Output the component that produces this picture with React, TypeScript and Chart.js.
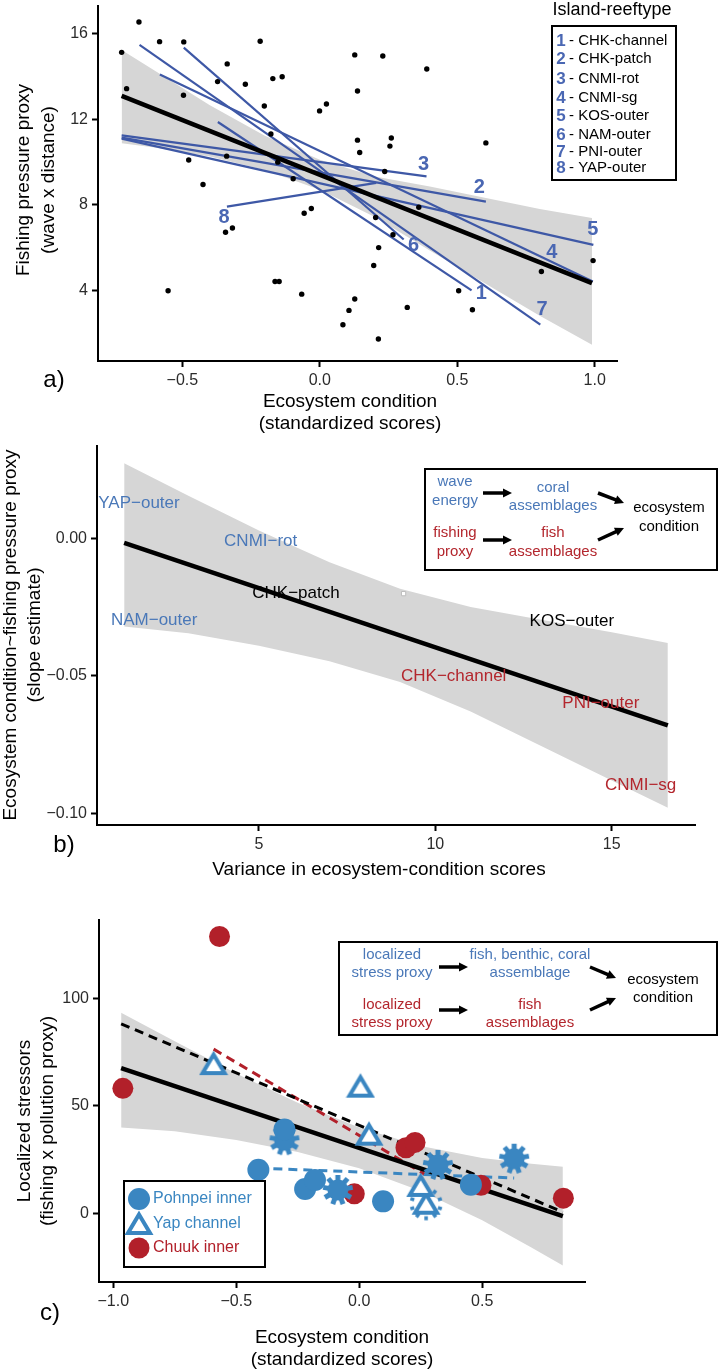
import React, { useEffect, useRef } from 'react';
import { Chart, registerables } from 'chart.js';

Chart.register(...registerables);

// ================= Panel a data =================
const aDotX = [-0.721, -0.658, -0.703, -0.583, -0.495, -0.496, -0.337, -0.372, -0.271, -0.217, -0.171, -0.137, -0.202, -0.178, -0.477, -0.339, -0.425, -0.097, -0.153, -0.001, 0.024, -0.057, -0.031, -0.343, -0.318, 0.127, 0.137, 0.137, 0.145, 0.229, 0.389, 0.26, 0.255, 0.604, 0.236, 0.36, 0.203, 0.266, 0.214, 0.196, -0.552, -0.163, -0.148, -0.066, 0.127, 0.106, 0.318, 0.505, 0.555, 0.213, 0.084, 0.806, 0.994];
const aDotY = [15.14, 16.56, 13.44, 15.64, 15.63, 13.13, 14.6, 13.77, 13.65, 15.66, 13.91, 14.0, 12.63, 11.32, 10.1, 10.28, 8.95, 9.22, 10.0, 12.4, 12.72, 7.61, 7.83, 6.72, 6.92, 15.02, 13.33, 11.03, 10.45, 14.97, 14.36, 11.13, 10.75, 10.9, 9.56, 7.89, 7.41, 6.6, 6.0, 5.16, 3.98, 4.41, 4.41, 3.82, 3.59, 3.06, 3.2, 3.98, 3.09, 1.72, 2.39, 4.88, 5.39];
const aFitX = [-0.721, 0.99];
const aFitY = [13.1, 4.34];
const aBandX = [-0.721, -0.6, -0.4, -0.2, 0.0, 0.2, 0.4, 0.6, 0.8, 0.99];
const aBandUpper = [15.25, 14.28, 12.66, 11.23, 10.11, 9.33, 8.86, 8.33, 7.81, 7.39];
const aBandLower = [10.89, 10.68, 10.26, 9.63, 8.71, 7.43, 5.86, 4.33, 2.81, 1.45];
const aGroupNames = ['CHK-channel', 'CHK-patch', 'CNMI-rot', 'CNMI-sg', 'KOS-outer', 'NAM-outer', 'PNI-outer', 'YAP-outer'];
const aGroupX0 = [-0.371, -0.721, -0.721, -0.582, -0.721, -0.495, -0.656, -0.338];
const aGroupY0 = [11.88, 11.15, 11.25, 14.1, 11.1, 15.36, 15.49, 7.92];
const aGroupX1 = [0.552, 0.604, 0.388, 0.993, 0.995, 0.305, 0.802, 0.205];
const aGroupY1 = [4.0, 8.15, 9.33, 4.41, 6.13, 6.38, 2.39, 9.03];
const aLabelX = [0.587, 0.58, 0.377, 0.844, 0.993, 0.341, 0.808, -0.348];
const aLabelY = [3.84, 8.8, 9.87, 5.75, 6.83, 6.08, 3.09, 7.39];
const aTicksX = [-0.5, 0, 0.5, 1.0];
const aTicksY = [4, 8, 12, 16];

// ================= Panel b data =================
const bFitX = [1.18, 16.59];
const bFitY = [-0.0015, -0.068];
const bBandX = [1.18, 3, 5, 7, 9, 11, 13, 15, 16.59];
const bBandUpper = [0.0275, 0.0157, 0.003, -0.0086, -0.0182, -0.0249, -0.0295, -0.0341, -0.038];
const bBandLower = [-0.032, -0.0344, -0.039, -0.0446, -0.0522, -0.0629, -0.0755, -0.0881, -0.098];
const bLabelText = ['YAP\u2212outer', 'CNMI\u2212rot', 'CHK\u2212patch', 'NAM\u2212outer', 'KOS\u2212outer', 'CHK\u2212channel', 'PNI\u2212outer', 'CNMI\u2212sg'];
const bLabelX = [1.6, 5.05, 6.05, 2.03, 13.87, 10.52, 14.69, 15.82];
const bLabelY = [0.0128, -0.001, -0.02, -0.0296, -0.03, -0.05, -0.06, -0.09];
const bLabelGroup = ['coral', 'coral', 'none', 'coral', 'none', 'fish', 'fish', 'fish'];
const bMarkX = [9.1];
const bMarkY = [-0.02];
const bTicksX = [5, 10, 15];
const bTicksY = [-0.1, -0.05, 0];

// ================= Panel c data =================
const cBandX = [-0.968, -0.75, -0.5, -0.25, 0, 0.25, 0.5, 0.7, 0.828];
const cBandUpper = [93.4, 80.2, 65.1, 51.5, 39.9, 31.3, 25.7, 23.0, 21.6];
const cBandLower = [39.9, 38.2, 34.1, 28.5, 20.9, 10.3, -3.3, -16.0, -24.4];
const cFitX = [-0.968, 0.828];
const cFitY = [67.6, -1.4];
const cAllDashX = [-0.968, 0.828];
const cAllDashY = [88.3, 0.5];
const cChuukDashX = [-0.592, 0.264];
const cChuukDashY = [76.5, 18.3];
const cPohnDashX = [-0.41, 0.63];
const cPohnDashY = [21, 16.4];
const cPohCircX = [-0.304, -0.41, -0.22, -0.18, 0.097, 0.454];
const cPohCircY = [39, 20.2, 11.3, 15.5, 5.5, 13.3];
const cPohCogX = [-0.304, -0.087, 0.32, 0.63];
const cPohCogY = [34, 10.8, 22.5, 25.4];
const cYapTriX = [-0.592, 0.005, 0.04, 0.25];
const cYapTriY = [69.5, 59, 36.6, 12.7];
const cYapCogX = [0.272];
const cYapCogY = [4.4];
const cChuukX = [-0.568, -0.961, -0.02, 0.19, 0.227, 0.495, 0.83];
const cChuukY = [129, 58.2, 9, 30.5, 33, 13, 7];
const cTicksX = [-1, -0.5, 0, 0.5];
const cTicksY = [0, 50, 100];

// ================= styling =================
const FONT = "'Liberation Sans', Arial, Helvetica, sans-serif";
const BAND = '#d6d6d6';
const LINE_A = '#3e58a6';
const LABEL_A = '#4a67b3';
const PT_BLUE = '#3a86c1';
const PT_RED = '#b2202a';
const TXT_BLUE = '#4a78b8';
const TXT_RED = '#b3262d';
const TICK_COL = '#2b2b2b';

const pts = (xs: number[], ys: number[]) => xs.map((x, i) => ({ x, y: ys[i] }));
const minus = (s: string) => s.replace('-', '\u2212');

function axis(min: number, max: number, ticks: number[], fmt: (v: number) => string, isX: boolean, size: number, fontSize = 16) {
  return {
    type: 'linear',
    min,
    max,
    afterBuildTicks: (s: any) => {
      s.ticks = ticks.map((v) => ({ value: v }));
    },
    afterFit: (s: any) => {
      if (isX) s.height = size;
      else s.width = size;
      s.paddingTop = 0;
      s.paddingBottom = 0;
      s.paddingLeft = 0;
      s.paddingRight = 0;
    },
    grid: { display: true, drawOnChartArea: false, drawTicks: true, tickLength: 6, tickWidth: 2, tickColor: '#000', color: '#000' },
    border: { display: true, color: '#000', width: 2 },
    ticks: {
      padding: 4,
      color: TICK_COL,
      autoSkip: false,
      maxRotation: 0,
      font: { family: FONT, size: fontSize },
      callback: (v: any) => fmt(Number(v)),
    },
  };
}

function txt(ctx: CanvasRenderingContext2D, s: string, x: number, y: number, size: number, color = '#000', o: any = {}) {
  ctx.save();
  ctx.font = `${o.weight || 'normal'} ${size}px ${o.family || FONT}`;
  ctx.fillStyle = color;
  ctx.textAlign = o.align || 'center';
  ctx.textBaseline = 'middle';
  ctx.translate(x, y);
  if (o.rot) ctx.rotate(o.rot);
  ctx.fillText(s, 0, 0);
  ctx.restore();
}

function arrow(ctx: CanvasRenderingContext2D, x1: number, y1: number, x2: number, y2: number) {
  const ang = Math.atan2(y2 - y1, x2 - x1);
  const head = 9;
  const hw = 4.5;
  const bx = x2 - head * Math.cos(ang);
  const by = y2 - head * Math.sin(ang);
  ctx.save();
  ctx.strokeStyle = '#000';
  ctx.fillStyle = '#000';
  ctx.lineWidth = 3.5;
  ctx.beginPath();
  ctx.moveTo(x1, y1);
  ctx.lineTo(bx + Math.cos(ang), by + Math.sin(ang));
  ctx.stroke();
  ctx.beginPath();
  ctx.moveTo(x2, y2);
  ctx.lineTo(bx + hw * Math.sin(ang), by - hw * Math.cos(ang));
  ctx.lineTo(bx - hw * Math.sin(ang), by + hw * Math.cos(ang));
  ctx.closePath();
  ctx.fill();
  ctx.restore();
}

function box(ctx: CanvasRenderingContext2D, x1: number, y1: number, x2: number, y2: number) {
  ctx.save();
  ctx.strokeStyle = '#000';
  ctx.lineWidth = 2;
  ctx.fillStyle = '#fff';
  ctx.fillRect(x1, y1, x2 - x1, y2 - y1);
  ctx.strokeRect(x1, y1, x2 - x1, y2 - y1);
  ctx.restore();
}

// ---------- marker images ----------
function mk(size: number, draw: (ctx: CanvasRenderingContext2D, c: number) => void) {
  const cv = document.createElement('canvas');
  cv.width = size;
  cv.height = size;
  const ctx = cv.getContext('2d') as CanvasRenderingContext2D;
  draw(ctx, size / 2);
  return cv;
}
function teeth(ctx: CanvasRenderingContext2D, c: number, n: number, r0: number, r1: number, w: number, color: string) {
  ctx.fillStyle = color;
  for (let k = 0; k < n; k++) {
    ctx.save();
    ctx.translate(c, c);
    ctx.rotate((k * 2 * Math.PI) / n - Math.PI / 2);
    ctx.fillRect(r0, -w / 2, r1 - r0, w);
    ctx.restore();
  }
}
function tri(ctx: CanvasRenderingContext2D, cx: number, cy: number) {
  ctx.beginPath();
  ctx.moveTo(cx, cy - 10.5);
  ctx.lineTo(cx + 11, cy + 8);
  ctx.lineTo(cx - 11, cy + 8);
  ctx.closePath();
  ctx.fillStyle = '#fff';
  ctx.fill();
  ctx.lineWidth = 4;
  ctx.lineJoin = 'miter';
  ctx.strokeStyle = PT_BLUE;
  ctx.stroke();
}
function makeMarkers() {
  const cog = mk(34, (ctx, c) => {
    teeth(ctx, c, 9, 8, 15, 5, PT_BLUE);
    ctx.beginPath();
    ctx.arc(c, c, 10.5, 0, Math.PI * 2);
    ctx.fillStyle = PT_BLUE;
    ctx.fill();
  });
  const triangle = mk(30, (ctx, c) => tri(ctx, c, c + 1));
  const triCog = mk(38, (ctx, c) => {
    teeth(ctx, c, 10, 12.5, 16.5, 3.5, PT_BLUE);
    tri(ctx, c, c + 1);
  });
  return { cog, triangle, triCog };
}

const baseOptions = (pad: any, scales: any) => ({
  responsive: false,
  maintainAspectRatio: false,
  animation: false,
  events: [],
  layout: { padding: pad },
  scales,
  plugins: { legend: { display: false }, tooltip: { enabled: false } },
});

const bandSets = (xs: number[], up: number[], lo: number[]) => [
  { data: pts(xs, up), fill: '+1', backgroundColor: BAND, borderColor: 'rgba(0,0,0,0)', borderWidth: 0, pointRadius: 0, order: 20 },
  { data: pts(xs, lo), fill: false, borderColor: 'rgba(0,0,0,0)', borderWidth: 0, pointRadius: 0, order: 19 },
];

// ================= Panel a =================
function buildA(canvas: HTMLCanvasElement) {
  const groupSets = aGroupNames.map((_, i) => ({
    data: [
      { x: aGroupX0[i], y: aGroupY0[i] },
      { x: aGroupX1[i], y: aGroupY1[i] },
    ],
    borderColor: LINE_A,
    borderWidth: 2.2,
    pointRadius: 0,
    fill: false,
    order: 10,
  }));
  const plugin = {
    id: 'panelA',
    afterDraw(chart: any) {
      const ctx = chart.ctx as CanvasRenderingContext2D;
      const xs = chart.scales.x;
      const ys = chart.scales.y;
      aLabelX.forEach((x, i) => {
        txt(ctx, String(i + 1), xs.getPixelForValue(x), ys.getPixelForValue(aLabelY[i]), 20, LABEL_A, { weight: 'bold' });
      });
      txt(ctx, 'Fishing pressure proxy', 24, 180, 19, '#000', { rot: -Math.PI / 2 });
      txt(ctx, '(wave x distance)', 49, 180, 19, '#000', { rot: -Math.PI / 2 });
      txt(ctx, 'Ecosystem condition', 350, 402, 19);
      txt(ctx, '(standardized scores)', 350, 424, 19);
      txt(ctx, 'a)', 54, 380, 24);
      txt(ctx, 'Island-reeftype', 612, 10, 18);
      box(ctx, 552, 26, 676, 180);
      const ly = [41, 59, 79, 98, 116, 135, 152, 168];
      aGroupNames.forEach((n, i) => {
        txt(ctx, String(i + 1), 561, ly[i], 17, LABEL_A, { weight: 'bold' });
        txt(ctx, '- ' + n, 569, ly[i], 15, '#000', { align: 'left' });
      });
    },
  };
  return new Chart(canvas, {
    type: 'line',
    data: {
      datasets: [
        ...bandSets(aBandX, aBandUpper, aBandLower),
        ...groupSets,
        { data: pts(aFitX, aFitY), borderColor: '#000', borderWidth: 4.5, pointRadius: 0, fill: false, order: 5 },
        { data: pts(aDotX, aDotY), showLine: false, pointRadius: 2.7, pointBackgroundColor: '#000', pointBorderWidth: 0, order: 1 },
      ],
    } as any,
    options: baseOptions(
      { top: 6, left: 38, right: 102, bottom: 49 },
      {
        x: axis(-0.807, 1.081, aTicksX, (v) => minus(v.toFixed(1)), true, 30),
        y: axis(0.69, 17.31, aTicksY, (v) => String(v), false, 60),
      }
    ) as any,
    plugins: [plugin],
  });
}

// ================= Panel b =================
function buildB(canvas: HTMLCanvasElement) {
  const off = 440;
  const colorFor = (g: string) => (g === 'coral' ? TXT_BLUE : g === 'fish' ? TXT_RED : '#000');
  const plugin = {
    id: 'panelB',
    afterDraw(chart: any) {
      const ctx = chart.ctx as CanvasRenderingContext2D;
      const xs = chart.scales.x;
      const ys = chart.scales.y;
      bLabelText.forEach((s, i) => {
        txt(ctx, s, xs.getPixelForValue(bLabelX[i]), ys.getPixelForValue(bLabelY[i]), 17, colorFor(bLabelGroup[i]));
      });
      txt(ctx, 'Ecosystem condition~fishing pressure proxy', 11, 635 - off, 19, '#000', { rot: -Math.PI / 2 });
      txt(ctx, '(slope estimate)', 35, 635 - off, 19, '#000', { rot: -Math.PI / 2 });
      txt(ctx, 'Variance in ecosystem-condition scores', 379, 870 - off, 19);
      txt(ctx, 'b)', 64, 845 - off, 24);
      box(ctx, 425, 469 - off, 717, 570 - off);
      txt(ctx, 'wave', 455, 482 - off, 15, TXT_BLUE);
      txt(ctx, 'energy', 455, 501 - off, 15, TXT_BLUE);
      txt(ctx, 'coral', 553, 488 - off, 15, TXT_BLUE);
      txt(ctx, 'assemblages', 553, 506 - off, 15, TXT_BLUE);
      txt(ctx, 'ecosystem', 669, 508 - off, 15);
      txt(ctx, 'condition', 669, 527 - off, 15);
      txt(ctx, 'fishing', 455, 533 - off, 15, TXT_RED);
      txt(ctx, 'proxy', 455, 552 - off, 15, TXT_RED);
      txt(ctx, 'fish', 553, 533 - off, 15, TXT_RED);
      txt(ctx, 'assemblages', 553, 552 - off, 15, TXT_RED);
      arrow(ctx, 483, 493 - off, 512, 493 - off);
      arrow(ctx, 483, 540 - off, 512, 540 - off);
      arrow(ctx, 598, 493 - off, 624, 503 - off);
      arrow(ctx, 598, 540 - off, 624, 528 - off);
    },
  };
  return new Chart(canvas, {
    type: 'line',
    data: {
      datasets: [
        ...bandSets(bBandX, bBandUpper, bBandLower),
        { data: pts(bFitX, bFitY), borderColor: '#000', borderWidth: 4.5, pointRadius: 0, fill: false, order: 5 },
        { data: pts(bMarkX, bMarkY), showLine: false, pointStyle: 'rect', pointRadius: 3, pointBackgroundColor: '#fff', pointBorderColor: '#bdbdbd', pointBorderWidth: 1, order: 1 },
      ],
    } as any,
    options: baseOptions(
      { top: 6, left: 37, right: 24, bottom: 25 },
      {
        x: axis(0.41, 17.36, bTicksX, (v) => String(v), true, 30),
        y: axis(-0.1043, 0.0338, bTicksY, (v) => minus(v.toFixed(2)), false, 60),
      }
    ) as any,
    plugins: [plugin],
  });
}

// ================= Panel c =================
function buildC(canvas: HTMLCanvasElement) {
  const off = 880;
  const m = makeMarkers();
  const plugin = {
    id: 'panelC',
    afterDraw(chart: any) {
      const ctx = chart.ctx as CanvasRenderingContext2D;
      txt(ctx, 'Localized stressors', 25, 1121 - off, 19, '#000', { rot: -Math.PI / 2 });
      txt(ctx, '(fishing x pollution proxy)', 48, 1121 - off, 19, '#000', { rot: -Math.PI / 2 });
      txt(ctx, 'Ecosystem condition', 342, 1338 - off, 19);
      txt(ctx, '(standardized scores)', 342, 1360 - off, 19);
      txt(ctx, 'c)', 50, 1313 - off, 24);
      box(ctx, 339, 942 - off, 717, 1035 - off);
      txt(ctx, 'localized', 392, 955 - off, 15, TXT_BLUE);
      txt(ctx, 'stress proxy', 392, 973 - off, 15, TXT_BLUE);
      txt(ctx, 'fish, benthic, coral', 530, 955 - off, 15, TXT_BLUE);
      txt(ctx, 'assemblage', 530, 973 - off, 15, TXT_BLUE);
      txt(ctx, 'ecosystem', 663, 980 - off, 15);
      txt(ctx, 'condition', 663, 998 - off, 15);
      txt(ctx, 'localized', 392, 1005 - off, 15, TXT_RED);
      txt(ctx, 'stress proxy', 392, 1023 - off, 15, TXT_RED);
      txt(ctx, 'fish', 530, 1005 - off, 15, TXT_RED);
      txt(ctx, 'assemblages', 530, 1023 - off, 15, TXT_RED);
      arrow(ctx, 439, 967 - off, 468, 967 - off);
      arrow(ctx, 439, 1010 - off, 468, 1010 - off);
      arrow(ctx, 590, 967 - off, 616, 978 - off);
      arrow(ctx, 590, 1010 - off, 616, 998 - off);
      box(ctx, 124, 1181 - off, 265, 1267 - off);
      ctx.save();
      ctx.fillStyle = PT_BLUE;
      ctx.beginPath();
      ctx.arc(139, 1199 - off, 11, 0, Math.PI * 2);
      ctx.fill();
      ctx.drawImage(m.triangle, 139 - 15, 1224 - off - 15);
      ctx.fillStyle = PT_RED;
      ctx.beginPath();
      ctx.arc(139, 1248 - off, 10.5, 0, Math.PI * 2);
      ctx.fill();
      ctx.restore();
      txt(ctx, 'Pohnpei inner', 153, 1199 - off, 16, PT_BLUE, { align: 'left' });
      txt(ctx, 'Yap channel', 153, 1224 - off, 16, PT_BLUE, { align: 'left' });
      txt(ctx, 'Chuuk inner', 153, 1248 - off, 16, PT_RED, { align: 'left' });
    },
  };
  const dash = (xs: number[], ys: number[], color: string) => ({
    data: pts(xs, ys),
    borderColor: color,
    borderWidth: 3,
    borderDash: [9, 6],
    pointRadius: 0,
    fill: false,
    order: 9,
  });
  return new Chart(canvas, {
    type: 'line',
    data: {
      datasets: [
        ...bandSets(cBandX, cBandUpper, cBandLower),
        dash(cAllDashX, cAllDashY, '#000'),
        dash(cChuukDashX, cChuukDashY, PT_RED),
        dash(cPohnDashX, cPohnDashY, PT_BLUE),
        { data: pts(cFitX, cFitY), borderColor: '#000', borderWidth: 4.5, pointRadius: 0, fill: false, order: 8 },
        { data: pts(cChuukX, cChuukY), showLine: false, pointRadius: 10.5, pointBackgroundColor: PT_RED, pointBorderWidth: 0, order: 4 },
        { data: pts(cPohCircX, cPohCircY), showLine: false, pointRadius: 11, pointBackgroundColor: PT_BLUE, pointBorderWidth: 0, order: 3 },
        { data: pts(cPohCogX, cPohCogY), showLine: false, pointRadius: 12, pointStyle: m.cog, order: 3 },
        { data: pts(cYapTriX, cYapTriY), showLine: false, pointRadius: 12, pointStyle: m.triangle, order: 2 },
        { data: pts(cYapCogX, cYapCogY), showLine: false, pointRadius: 12, pointStyle: m.triCog, order: 2 },
      ],
    } as any,
    options: baseOptions(
      { top: 40, left: 39, right: 134, bottom: 59 },
      {
        x: axis(-1.058, 0.918, cTicksX, (v) => minus(v.toFixed(1)), true, 30),
        y: axis(-32.1, 136.7, cTicksY, (v) => String(v), false, 60),
      }
    ) as any,
    plugins: [plugin],
  });
}

export default function App() {
  const refA = useRef<HTMLCanvasElement>(null);
  const refB = useRef<HTMLCanvasElement>(null);
  const refC = useRef<HTMLCanvasElement>(null);
  useEffect(() => {
    const charts = [buildA(refA.current as HTMLCanvasElement), buildB(refB.current as HTMLCanvasElement), buildC(refC.current as HTMLCanvasElement)];
    return () => charts.forEach((c) => c.destroy());
  }, []);
  return (
    <div style={{ position: 'absolute', left: 0, top: 0, width: 719, height: 1371, background: '#fff' }}>
      <canvas ref={refA} width={719} height={440} style={{ position: 'absolute', left: 0, top: 0 }} />
      <canvas ref={refB} width={719} height={440} style={{ position: 'absolute', left: 0, top: 440 }} />
      <canvas ref={refC} width={719} height={491} style={{ position: 'absolute', left: 0, top: 880 }} />
    </div>
  );
}
